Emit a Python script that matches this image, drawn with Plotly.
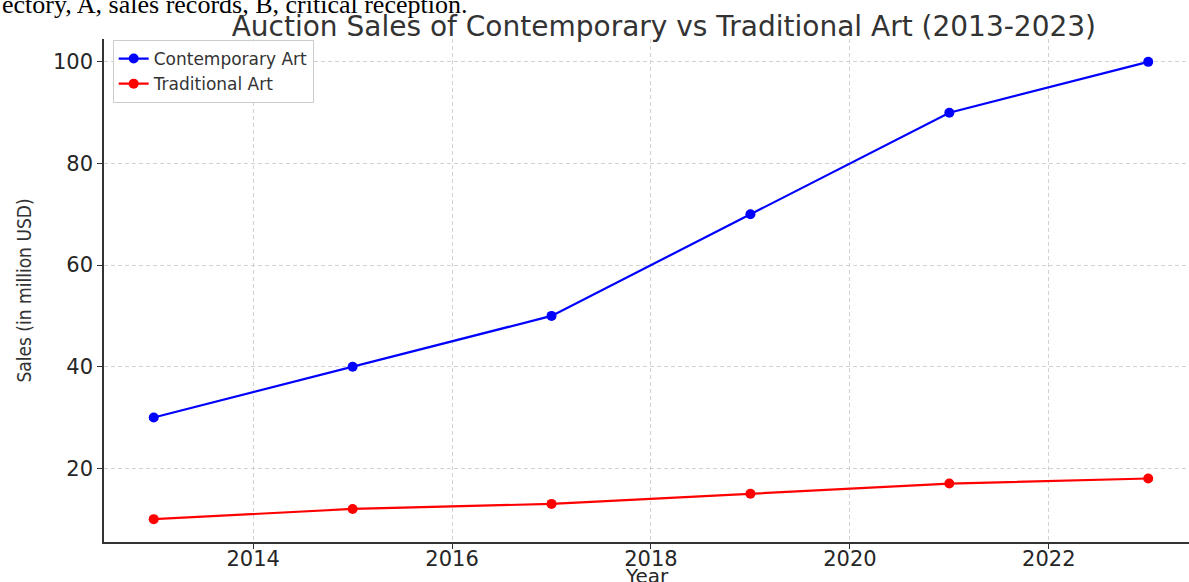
import plotly.graph_objects as go

# Auction sales, in million USD
years = [2013, 2015, 2017, 2019, 2021, 2023]
contemporary = [30, 40, 50, 70, 90, 100]
traditional = [10, 12, 13, 15, 17, 18]
x_ticks = [2014, 2016, 2018, 2020, 2022]
y_ticks = [20, 40, 60, 80, 100]

TICK_FONT = dict(family="DejaVu Sans", size=21, color="#262626")
GRID = dict(showgrid=True, gridcolor="#d2d2d2", griddash="4px,3px", gridwidth=1)
SPINE = dict(showline=True, linecolor="#333333", linewidth=1.6, mirror=False,
             ticks="outside", ticklen=5, tickwidth=1.2, tickcolor="#333333",
             zeroline=False, automargin=False)

fig = go.Figure()
fig.add_trace(go.Scatter(
    x=years, y=contemporary, name="Contemporary Art", mode="lines+markers",
    line=dict(color="blue", width=2.2), marker=dict(color="blue", size=10),
))
fig.add_trace(go.Scatter(
    x=years, y=traditional, name="Traditional Art", mode="lines+markers",
    line=dict(color="red", width=2.2), marker=dict(color="red", size=10),
))

fig.update_layout(
    width=1189, height=582,
    margin=dict(l=104, r=0, t=39, b=40, autoexpand=False),
    plot_bgcolor="white", paper_bgcolor="white",
    title=dict(
        text="Auction Sales of Contemporary vs Traditional Art (2013-2023)",
        font=dict(family="DejaVu Sans", size=28, color="#333333"),
        x=0.516, xanchor="center", xref="paper",
        y=1 - 26 / 582, yanchor="middle", yref="container",
    ),
    legend=dict(
        x=0.008, y=0.998, xanchor="left", yanchor="top",
        bgcolor="rgba(255,255,255,0.85)", bordercolor="#cccccc", borderwidth=1,
        font=dict(family="DejaVu Sans", size=17, color="#333333"),
        tracegroupgap=0,
    ),
    showlegend=True,
)

fig.update_xaxes(
    range=[2012.5, 2023.41], tickvals=x_ticks, tickfont=TICK_FONT,
    ticklabelstandoff=-8,
    **SPINE, **GRID,
)
fig.update_yaxes(
    range=[5.5, 104.5], tickvals=y_ticks, tickfont=TICK_FONT,
    **SPINE, **GRID,
    title=dict(text="Sales (in million USD)",
               font=dict(family="DejaVu Sans Condensed, Liberation Sans Narrow, DejaVu Sans", size=19, color="#333333"),
               standoff=16),
)

# x-axis title sits just under the tick labels, running off the bottom edge
fig.add_annotation(
    text="Year", xref="paper", yref="paper", x=0.5, y=0,
    xanchor="center", yanchor="middle", yshift=-34, showarrow=False,
    font=dict(family="DejaVu Sans", size=20, color="#262626"),
)

# Caption line running along the top edge
fig.add_annotation(
    text="ectory, A, sales records, B, critical reception.",
    xref="paper", yref="paper", x=-104 / 1085, y=1 + 39 / 503,
    xanchor="left", yanchor="bottom", yshift=-21, showarrow=False,
    font=dict(family="Liberation Serif", size=26, color="black"),
)

fig.write_html("out.html")
